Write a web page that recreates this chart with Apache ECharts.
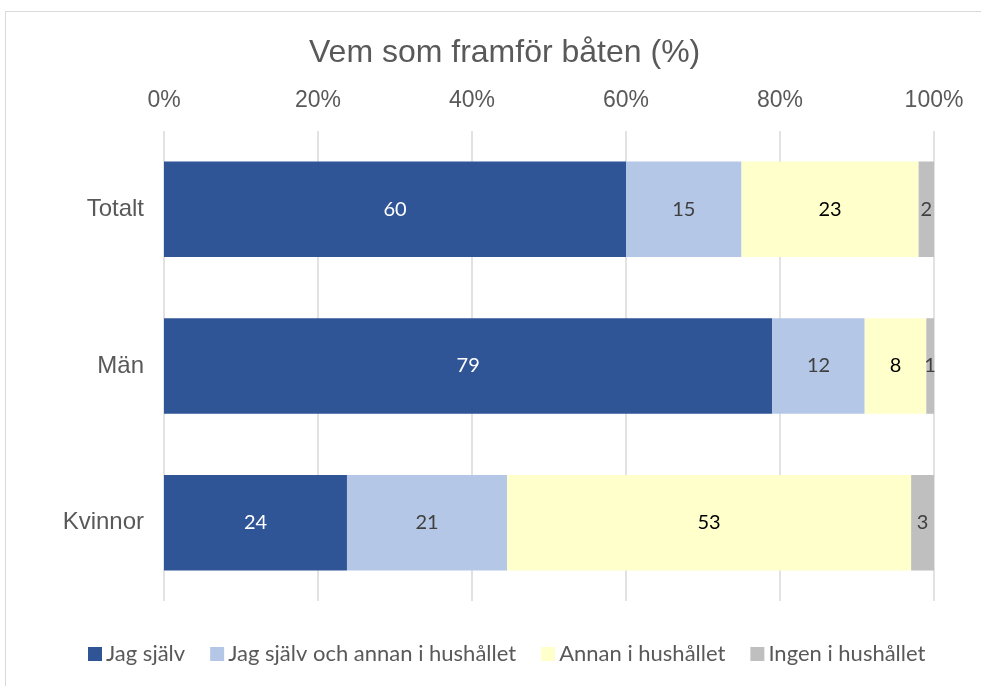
<!DOCTYPE html>
<html><head><meta charset="utf-8">
<script src="https://cdn.jsdelivr.net/npm/echarts@6/dist/echarts.min.js"></script>
<style>html,body{margin:0;padding:0;background:#fff;}#wrap{position:absolute;left:5px;top:11px;width:990px;height:690px;border:1px solid #d9d9d9;box-sizing:border-box;}#c{position:absolute;left:0;top:0;width:981px;height:686px;}</style>
</head><body><div id="wrap"></div><div id="c"></div>
<script>
const categories = ['Totalt', 'Män', 'Kvinnor'];
const seriesNames = ['Jag själv', 'Jag själv och annan i hushållet', 'Annan i hushållet', 'Ingen i hushållet'];
const jagSjalv = [60, 79, 24];
const jagOchAnnan = [15, 12, 21];
const annan = [23, 8, 53];
const ingen = [2, 1, 3];
const xTicks = ['0%', '20%', '40%', '60%', '80%', '100%'];

const raw = [jagSjalv, jagOchAnnan, annan, ingen];
const totals = categories.map((_, i) => raw.reduce((s, a) => s + a[i], 0));
const colors = ['#2F5597', '#B4C7E7', '#FFFFCC', '#BFBFBF'];
const labelColors = ['#ffffff', '#404040', '#000000', '#404040'];

const chart = echarts.init(document.getElementById('c'));
chart.setOption({
  animation: false,
  title: { text: 'Vem som framför båten (%)', left: 304, top: 32,
    textStyle: { fontFamily: 'Liberation Sans', fontSize: 32, fontWeight: 'normal', color: '#595959' } },
  grid: { left: 164, right: 47, top: 131, bottom: 85 },
  xAxis: { type: 'value', position: 'top', min: 0, max: 100, interval: 20,
    axisLabel: { formatter: v => xTicks[v / 20], fontFamily: 'Liberation Sans', fontSize: 23, color: '#595959', margin: 19 },
    axisLine: { show: false }, axisTick: { show: false },
    splitLine: { lineStyle: { color: '#D9D9D9', width: 1.5 } } },
  yAxis: { type: 'category', data: categories, inverse: true,
    axisLine: { show: false }, axisTick: { show: false },
    axisLabel: { fontFamily: 'Liberation Sans', fontSize: 24, color: '#595959', margin: 20 } },
  legend: { bottom: 16, left: 83, itemWidth: 14, itemHeight: 14, itemGap: 25,
    icon: 'rect',
    textStyle: { fontFamily: 'Lato', fontSize: 22, color: '#595959', padding: [0, 0, 0, -1] } },
  series: raw.map((arr, k) => ({
    name: seriesNames[k], type: 'bar', stack: 'a', barCategoryGap: '39%',
    itemStyle: { color: colors[k] },
    data: arr.map((v, i) => ({ value: v / totals[i] * 100 })),
    label: { show: true, position: 'inside', fontFamily: 'Lato', fontSize: 20,
      color: labelColors[k], formatter: p => raw[k][p.dataIndex] }
  }))
});
</script></body></html>
